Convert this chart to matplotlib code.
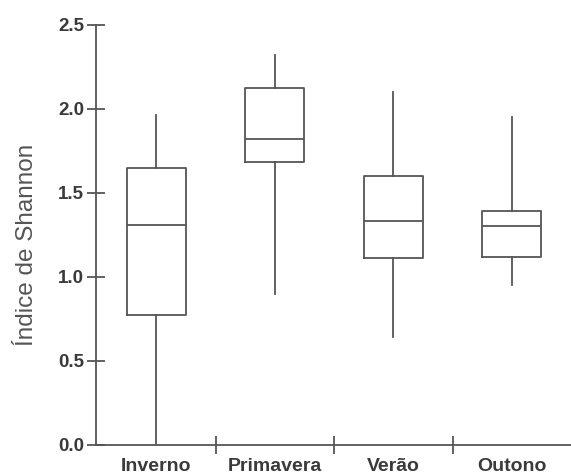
import matplotlib.pyplot as plt

# Shannon index by season
seasons = ['Inverno', 'Primavera', 'Verão', 'Outono']
whisker_low = [0.00, 0.90, 0.64, 0.95]
q1 = [0.77, 1.68, 1.11, 1.12]
median = [1.31, 1.82, 1.33, 1.30]
q3 = [1.65, 2.12, 1.60, 1.39]
whisker_high = [1.96, 2.32, 2.10, 1.95]

plt.rcParams['font.family'] = ['Liberation Sans', 'DejaVu Sans']
col = '#555555'

fig = plt.figure(figsize=(5.71, 4.74), dpi=100)
ax = fig.add_axes([0.168, 0.0612, 0.832, 0.887])

stats = []
for i, name in enumerate(seasons):
    stats.append(dict(label=name, whislo=whisker_low[i], q1=q1[i], med=median[i],
                      q3=q3[i], whishi=whisker_high[i], fliers=[]))

ax.bxp(stats, positions=range(len(seasons)), widths=0.5, showcaps=False,
       boxprops=dict(color=col, linewidth=1.3),
       whiskerprops=dict(color=col, linewidth=1.3),
       medianprops=dict(color=col, linewidth=1.3))

ax.set_xlim(-0.51, 3.5)
ax.set_ylim(0, 2.5)
ax.set_yticks([0.0, 0.5, 1.0, 1.5, 2.0, 2.5])
ax.set_yticklabels(['0.0', '0.5', '1.0', '1.5', '2.0', '2.5'])
ax.set_xticks([0.5, 1.5, 2.5])
ax.set_xticklabels([])
for i, name in enumerate(seasons):
    ax.text(i, -0.078, name, ha='center', va='top', fontsize=14,
            fontweight='bold', color='#3a3a3a', transform=ax.transData,
            clip_on=False)

for s in ['top', 'right']:
    ax.spines[s].set_visible(False)
for s in ['left', 'bottom']:
    ax.spines[s].set_color(col)
    ax.spines[s].set_linewidth(1.3)

ax.tick_params(axis='both', direction='inout', length=13, width=1.3, color=col)
ax.tick_params(axis='y', labelsize=13.5, labelcolor='#3a3a3a', pad=2)
for lab in ax.get_yticklabels():
    lab.set_fontweight('bold')

ax.set_ylabel('Índice de Shannon', fontsize=17.5, color=col, va='center')
ax.yaxis.set_label_coords(-0.145, 0.477)

fig.savefig('out.png', dpi=100)
